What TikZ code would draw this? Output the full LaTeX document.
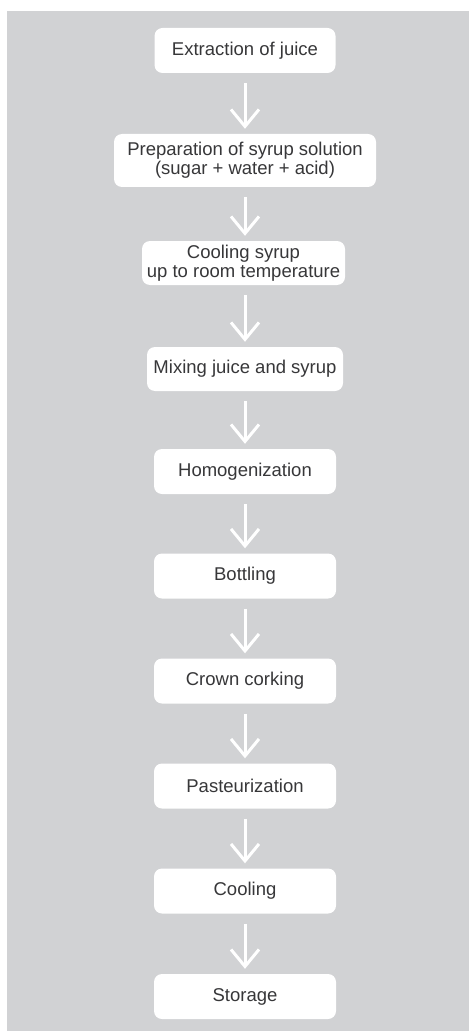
\documentclass[tikz,border=0pt]{standalone}
\usepackage{fontspec}
\setmainfont{Liberation Sans}
\usetikzlibrary{arrows.meta}
\definecolor{bggray}{RGB}{209,210,212}
\definecolor{txtgray}{RGB}{55,55,57}
\begin{document}
\begin{tikzpicture}[x=1pt,y=-1pt,
  stepbox/.style={fill=white, rounded corners=8pt, inner sep=0pt, align=center,
    text=txtgray, font=\fontsize{18.5}{19}\selectfont},
  flowarrow/.style={draw=white, line width=3pt, -{Straight Barb[length=17pt,width=28pt]}}]
\useasboundingbox (0,0) rectangle (469,1032);
\fill[bggray] (7,11) rectangle (469,1031);
\node[stepbox, minimum width=181pt, minimum height=45pt] (n1) at (245,50.5) {Extraction of juice};
\node[stepbox, minimum width=262pt, minimum height=53pt] (n2) at (245,160.5) {Preparation of syrup solution\\(sugar + water + acid)};
\node[stepbox, minimum width=203pt, minimum height=44pt] (n3) at (243.5,263) {Cooling syrup\\up to room temperature};
\node[stepbox, minimum width=196pt, minimum height=44pt] (n4) at (245,369) {Mixing juice and syrup};
\node[stepbox, minimum width=182pt, minimum height=45pt] (n5) at (245,471.5) {Homogenization};
\node[stepbox, minimum width=182pt, minimum height=45pt] (n6) at (245,576) {Bottling};
\node[stepbox, minimum width=182pt, minimum height=45pt] (n7) at (245,681) {Crown corking};
\node[stepbox, minimum width=182pt, minimum height=45pt] (n8) at (245,786) {Pasteurization};
\node[stepbox, minimum width=182pt, minimum height=45pt] (n9) at (245,891) {Cooling};
\node[stepbox, minimum width=182pt, minimum height=45pt] (n10) at (245,996.5) {Storage};
\foreach \a/\b in {n1/n2,n2/n3,n3/n4,n4/n5,n5/n6,n6/n7,n7/n8,n8/n9,n9/n10}{
  \draw[flowarrow] ([yshift=-10pt]\a.south -| 245,0) -- ([yshift=5pt]\b.north -| 245,0);
}
\end{tikzpicture}
\end{document}
